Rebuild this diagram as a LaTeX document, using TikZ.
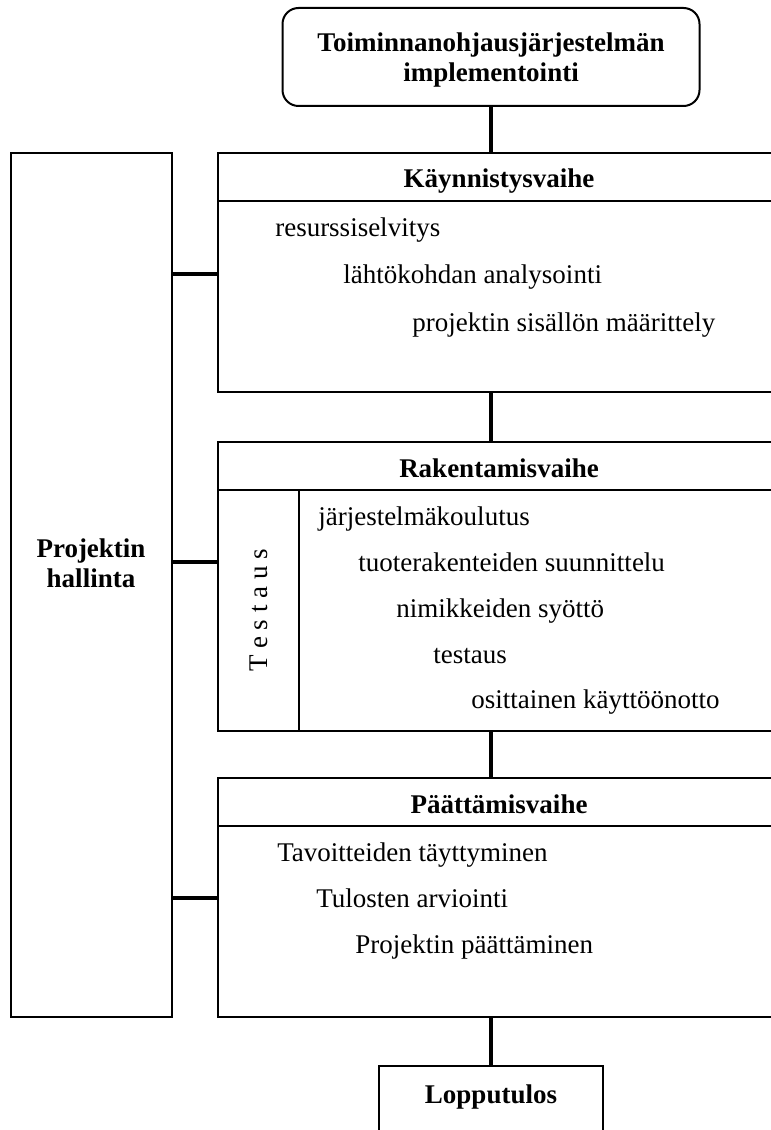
\documentclass[tikz,border=0pt]{standalone}
\usepackage{fontspec}
\setmainfont{Liberation Serif}
\usetikzlibrary{positioning}
\newcommand{\diagfont}{\fontsize{20.25}{22.5}\selectfont}
\tikzstyle{box} = [draw, rectangle, line width=1.5pt, inner sep=0pt, outer sep=0pt]
\tikzstyle{phase} = [box, minimum width=421.5pt, text height=26.25pt, text depth=9.75pt, font=\diagfont\bfseries]
\tikzstyle{item} = [anchor=base west, inner sep=0pt]
\tikzstyle{link} = [line width=3pt]

\begin{document}
\begin{tikzpicture}[x=0.75pt, y=-0.75pt, font=\diagfont]
	\useasboundingbox (0,0) rectangle (770,1130);
	%Implementointi
	\node[box, rounded corners=12pt, minimum width=312.75pt, minimum height=73.5pt] (impl) at (491,57) {};
	\node[align=center, font=\diagfont\bfseries] (impltext) at (491,60) {Toiminnanohjausjärjestelmän\\implementointi};

	%Projektin hallinta
	\node[box, anchor=north west, minimum width=120.75pt, minimum height=648pt] (hallinta) at (11,153) {};
	\node[align=center, font=\diagfont\bfseries] (hallintateksti) at (91,563) {Projektin\\hallinta};

	%Kaynnistysvaihe
	\node[phase, anchor=north west] (kayn) at (218,153) {Käynnistysvaihe};
	\node[box, minimum width=421.5pt, minimum height=143.25pt, below=0pt of kayn] (kaynbody) {};
	\node[item] (resurssi) at (275,237) {resurssiselvitys};
	\node[item] (lahto) at (343,284) {lähtökohdan analysointi};
	\node[item] (sisalto) at (412,331) {projektin sisällön määrittely};

	%Rakentamisvaihe
	\node[phase, anchor=north west] (rak) at (218,442) {Rakentamisvaihe};
	\node[box, minimum width=421.5pt, minimum height=180.75pt, below=0pt of rak] (rakbody) {};
	\node[box, anchor=north west, minimum width=60.75pt, minimum height=180.75pt] (testcol) at (rakbody.north west) {};
	\node[rotate=90] (testaus) at (testcol.center) {T e s t a u s};
	\node[item] (koulutus) at (318,525) {järjestelmäkoulutus};
	\node[item] (tuote) at (358,571) {tuoterakenteiden suunnittelu};
	\node[item] (nimike) at (396,617) {nimikkeiden syöttö};
	\node[item] (testi) at (433,663) {testaus};
	\node[item] (kaytto) at (471,708) {osittainen käyttöönotto};

	%Paattamisvaihe
	\node[phase, anchor=north west] (paat) at (218,778) {Päättämisvaihe};
	\node[box, minimum width=421.5pt, minimum height=143.25pt, below=0pt of paat] (paatbody) {};
	\node[item] (tavoite) at (277,861) {Tavoitteiden täyttyminen};
	\node[item] (tulos) at (316,907) {Tulosten arviointi};
	\node[item] (lopetus) at (355,953) {Projektin päättäminen};

	%Lopputulos
	\node[box, anchor=north, text height=27.75pt, text depth=35.25pt, text width=168pt, align=center, font=\diagfont\bfseries] (loppu) at (491,1066) {Lopputulos};

	%vertical links
	\draw[link] (impl.south) -- (impl.south |- kayn.north);
	\draw[link] (impl.south |- kaynbody.south) -- (impl.south |- rak.north);
	\draw[link] (impl.south |- rakbody.south) -- (impl.south |- paat.north);
	\draw[link] (impl.south |- paatbody.south) -- (loppu.north);
	%horizontal links
	\coordinate (kaynlink) at (218,274);
	\coordinate (raklink) at (218,562);
	\coordinate (paatlink) at (218,898);
	\draw[link] (hallinta.east |- kaynlink) -- (kaynlink);
	\draw[link] (hallinta.east |- raklink) -- (raklink);
	\draw[link] (hallinta.east |- paatlink) -- (paatlink);
\end{tikzpicture}
\end{document}
